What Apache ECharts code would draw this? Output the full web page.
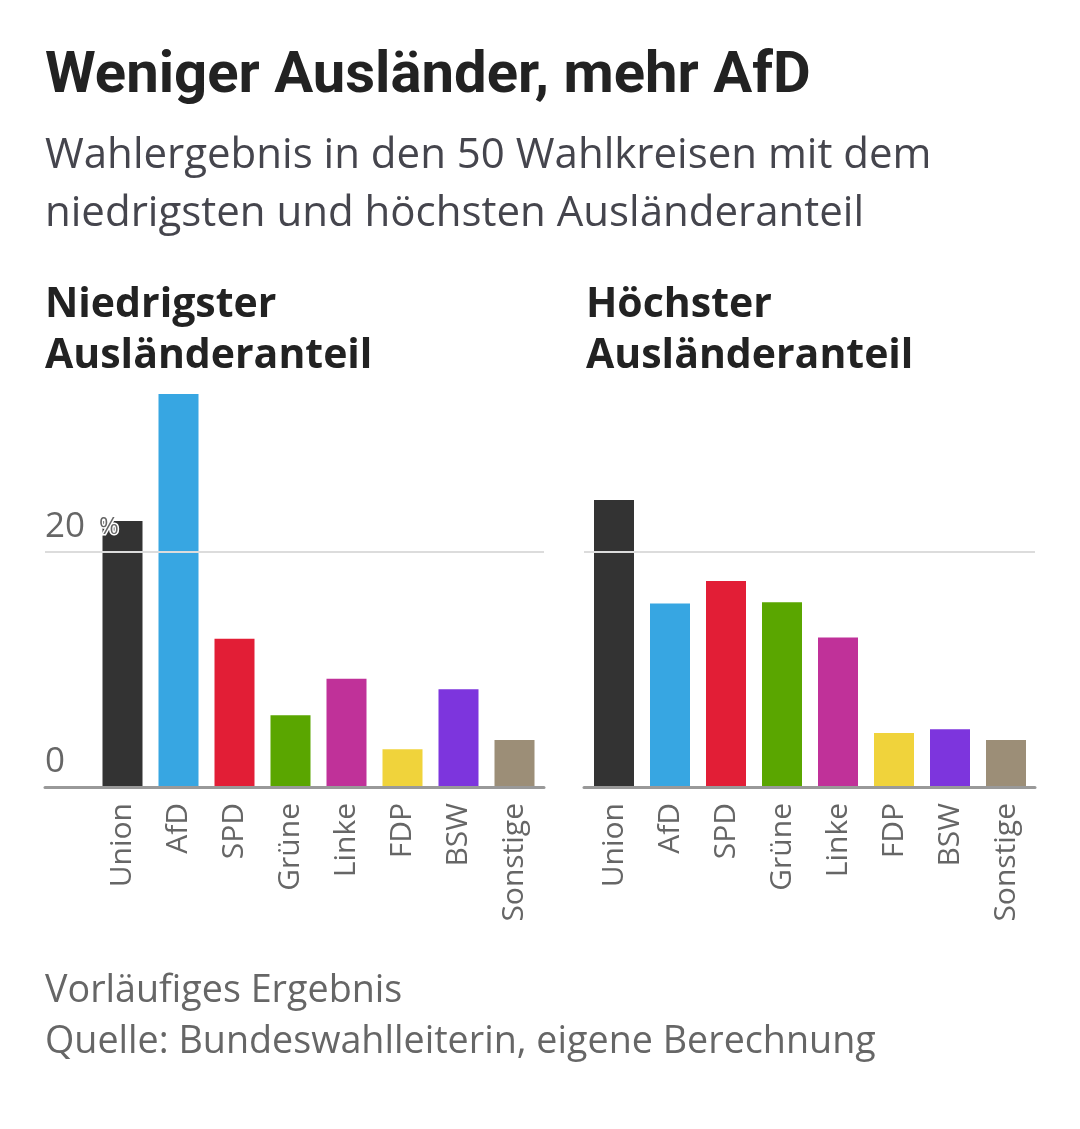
<!DOCTYPE html>
<html>
<head>
<meta charset="utf-8">
<script src="https://cdn.jsdelivr.net/npm/echarts@6/dist/echarts.min.js"></script>
<style>
  html, body { margin: 0; padding: 0; background: #fff; }
  #chart { width: 1080px; height: 1129px; }
</style>
</head>
<body>
<div id="chart"></div>
<script>
var parties = ["Union", "AfD", "SPD", "Grüne", "Linke", "FDP", "BSW", "Sonstige"];
var partyColors = ["#333333", "#37a6e2", "#e21e36", "#5aa600", "#c03199", "#f0d33b", "#7d35dd", "#9c8e77"];
// Wahlergebnis in Prozent
var lowShare = [22.6, 33.4, 12.6, 6.1, 9.2, 3.2, 8.3, 4.0];
var highShare = [24.4, 15.6, 17.5, 15.7, 12.7, 4.6, 4.9, 4.0];
var yTicks = [0, 20];

var font = "Open Sans";
var titleFont = "Roboto";
var chart = echarts.init(document.getElementById("chart"));

var gridTop = 387;
var gridBottom = 342;
var yMax = 34;

function barData(values) {
  return values.map(function (v, i) {
    return { value: v, itemStyle: { color: partyColors[i] } };
  });
}

// Achse nur für Linien und Beschriftung
function lineYAxis(gridIndex, showLabels) {
  return {
    type: "value",
    gridIndex: gridIndex,
    min: 0,
    max: yMax,
    interval: 20,
    z: 5,
    axisLine: { show: false },
    axisTick: { show: false },
    splitLine: {
      show: true,
      showMinLine: false,
      showMaxLine: false,
      lineStyle: { color: "#dcdcdc", width: 2 },
    },
    axisLabel: {
      show: showLabels,
      inside: true,
      margin: 0,
      showMaxLabel: false,
      align: "left",
      verticalAlign: "bottom",
      padding: [0, 0, 8, 0],
      formatter: function (v) {
        return v === yTicks[1] ? "{n|" + v + "}{p|%}" : "{n|" + v + "}";
      },
      rich: {
        n: { fontFamily: font, fontSize: 35, lineHeight: 34, color: "#666" },
        p: {
          fontFamily: font, fontSize: 24, lineHeight: 34, color: "#666",
          padding: [0, 0, 0, 14], textBorderColor: "#fff", textBorderWidth: 3,
        },
      },
    },
  };
}

function lineXAxis(gridIndex) {
  return {
    type: "value",
    gridIndex: gridIndex,
    min: 0,
    max: 1,
    z: 6,
    axisLine: { show: true, lineStyle: { color: "#999", width: 3 } },
    axisTick: { show: false },
    axisLabel: { show: false },
    splitLine: { show: false },
  };
}

function barXAxis(gridIndex) {
  return {
    type: "category",
    gridIndex: gridIndex,
    data: parties,
    axisLine: { show: false },
    axisTick: { show: false },
    axisLabel: {
      rotate: 90,
      margin: 16,
      interval: 0,
      color: "#666",
      fontFamily: font,
      fontSize: 30,
    },
  };
}

function barYAxis(gridIndex) {
  return { type: "value", gridIndex: gridIndex, min: 0, max: yMax, show: false };
}

var option = {
  backgroundColor: "#fff",
  animation: false,
  title: [
    {
      text: "Weniger Ausländer, mehr AfD",
      left: 45, top: 47, padding: 0,
      textStyle: { fontFamily: titleFont, fontWeight: "bold", fontSize: 58, lineHeight: 60, color: "#222" },
    },
    {
      text: "Wahlergebnis in den 50 Wahlkreisen mit dem\nniedrigsten und höchsten Ausländeranteil",
      left: 45, top: 127, padding: 0,
      textStyle: { fontFamily: font, fontWeight: "normal", fontSize: 42, lineHeight: 58, color: "#45454d" },
    },
    {
      text: "Niedrigster\nAusländeranteil",
      left: 45, top: 280, padding: 0,
      textStyle: { fontFamily: font, fontWeight: "bold", fontSize: 41, lineHeight: 51, color: "#222" },
    },
    {
      text: "Höchster\nAusländeranteil",
      left: 586, top: 280, padding: 0,
      textStyle: { fontFamily: font, fontWeight: "bold", fontSize: 41, lineHeight: 51, color: "#222" },
    },
    {
      text: "Vorläufiges Ergebnis\nQuelle: Bundeswahlleiterin, eigene Berechnung",
      left: 45, top: 966, padding: 0,
      textStyle: { fontFamily: font, fontWeight: "normal", fontSize: 37.7, lineHeight: 51, color: "#666" },
    },
  ],
  grid: [
    { left: 45, width: 499, top: gridTop, bottom: gridBottom },
    { left: 94.5, width: 448, top: gridTop, bottom: gridBottom },
    { left: 584, width: 451, top: gridTop, bottom: gridBottom },
    { left: 586, width: 448, top: gridTop, bottom: gridBottom },
  ],
  xAxis: [lineXAxis(0), barXAxis(1), lineXAxis(2), barXAxis(3)],
  yAxis: [lineYAxis(0, true), barYAxis(1), lineYAxis(2, false), barYAxis(3)],
  series: [
    {
      type: "bar",
      xAxisIndex: 1,
      yAxisIndex: 1,
      barWidth: 40,
      data: barData(lowShare),
    },
    {
      type: "bar",
      xAxisIndex: 3,
      yAxisIndex: 3,
      barWidth: 40,
      data: barData(highShare),
    },
  ],
};
chart.setOption(option);
</script>
</body>
</html>
